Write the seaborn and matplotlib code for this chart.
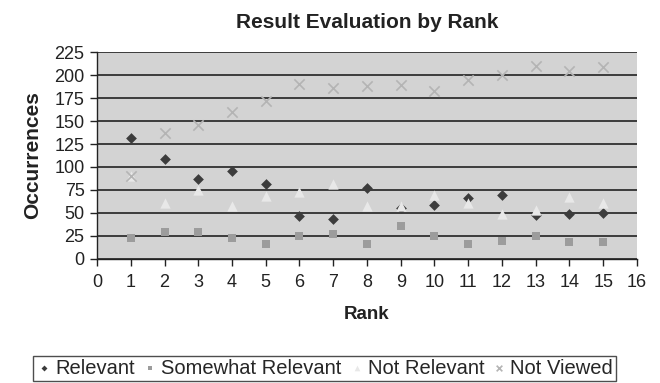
import numpy as np
import pandas as pd
import matplotlib
matplotlib.use('Agg')
import matplotlib.pyplot as plt
import seaborn as sns

rank = list(range(1, 16))
relevant = [132, 109, 87, 96, 81, 47, 43, 77, 55, 59, 66, 69, 48, 49, 50]
somewhat = [23, 29, 29, 23, 16, 25, 27, 16, 36, 25, 16, 19, 25, 18, 18]
not_relevant = [90, 61, 75, 58, 68, 73, 82, 58, 58, 70, 61, 49, 53, 67, 61]
not_viewed = [90, 137, 146, 160, 172, 190, 186, 188, 189, 183, 195, 200, 210, 204, 209]

series = ['Relevant', 'Somewhat Relevant', 'Not Relevant', 'Not Viewed']
values = [relevant, somewhat, not_relevant, not_viewed]

df = pd.DataFrame({
	'Rank': rank * 4,
	'Occurrences': sum(values, []),
	'Series': np.repeat(series, len(rank)),
})

sns.set_style('white')
plt.rcParams['font.family'] = ['Liberation Sans', 'DejaVu Sans']

fig = plt.figure(figsize=(6.6, 3.83), dpi=100)
ax = fig.add_axes([0.147, 0.324, 0.818, 0.540])
ax.set_facecolor('#d3d3d3')

colors = {'Relevant': '#3c3c3c', 'Somewhat Relevant': '#9c9c9c',
		  'Not Relevant': '#e8e8e8', 'Not Viewed': '#b4b4b4'}
markers = {'Relevant': 'D', 'Somewhat Relevant': 's',
		   'Not Relevant': '^', 'Not Viewed': 'x'}
sizes = {'Relevant': 30, 'Somewhat Relevant': 30, 'Not Relevant': 55, 'Not Viewed': 55}

for s in series:
	sub = df[df['Series'] == s]
	sns.scatterplot(data=sub, x='Rank', y='Occurrences', ax=ax, color=colors[s],
					marker=markers[s], s=sizes[s], linewidth=1.2 if s == 'Not Viewed' else 0,
					label=s, zorder=3)

ax.set_xlim(0, 16)
ax.set_ylim(0, 225)
ax.set_xticks(range(0, 17))
ax.set_yticks(range(0, 226, 25))
ax.grid(axis='y', color='#222222', linewidth=1.2)
ax.set_axisbelow(True)
for sp in ['top', 'right']:
	ax.spines[sp].set_visible(False)
for sp in ['left', 'bottom']:
	ax.spines[sp].set_color('#222222')
	ax.spines[sp].set_linewidth(1)
ax.tick_params(axis='both', direction='out', length=5, width=1, color='#222222',
			   labelsize=13, labelcolor='#222222', left=True, bottom=True)
ax.tick_params(axis='x', pad=6)
ax.tick_params(axis='y', pad=4)
ax.set_xlabel('Rank', fontsize=13.5, fontweight='bold', labelpad=11, color='#222222')
ax.set_ylabel('Occurrences', fontsize=15, fontweight='bold', labelpad=9, color='#222222')
ax.set_title('Result Evaluation by Rank', fontsize=15, fontweight='bold', pad=17, color='#222222')

handles, labels = ax.get_legend_handles_labels()
ax.legend_.remove()
leg = fig.legend(handles, labels, loc='lower center', bbox_to_anchor=(0.492, -0.02), ncol=4,
				 frameon=True, fancybox=False, edgecolor='#222222', fontsize=14.5,
				 handletextpad=0.15, columnspacing=0.35, handlelength=0.8,
				 markerscale=0.55, borderpad=0.15)
leg.get_frame().set_linewidth(1)

fig.savefig('out.png', dpi=100)
